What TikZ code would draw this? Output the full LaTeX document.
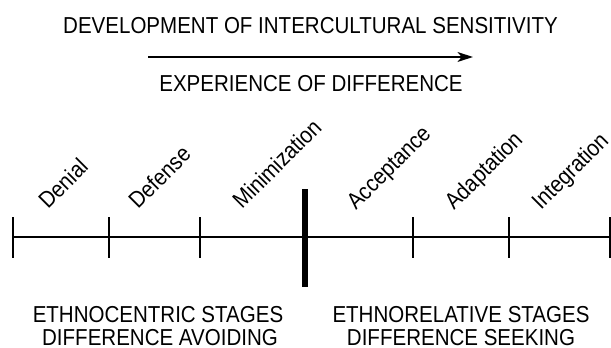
\documentclass[tikz,border=0pt]{standalone}
\usepackage{fontspec}
\setmainfont[FakeStretch=0.89]{Liberation Sans}
\usetikzlibrary{arrows.meta}
\begin{document}
\begin{tikzpicture}[x=0.025cm, y=0.025cm, font=\fontsize{16.4}{18}\selectfont,
  stage/.style={rotate=45, anchor=base west, inner sep=0pt},
  caps/.style={anchor=base, inner sep=0pt},
  tick/.style={line width=0.9pt}]
  \useasboundingbox (0,0) rectangle (611,348);
  \def\Y{111}
  % headline and the arrow under it
  \node[caps] (title) at (310.5,314) {DEVELOPMENT OF INTERCULTURAL SENSITIVITY};
  \coordinate (arrS) at (148,291);
  \coordinate (arrE) at (473,291);
  \draw[line width=1.4pt, -{Stealth[length=11pt, width=7pt, inset=3pt]}] (arrS) -- (arrE);
  \node[caps] (exper) at (311,256) {EXPERIENCE OF DIFFERENCE};
  % the scale
  \coordinate (L) at (13,\Y);
  \coordinate (R) at (611,\Y);
  \draw[tick] (L) -- (R);
  \foreach \x in {13,109,200,413,509,610}
    \draw[tick] (\x,90) -- (\x,131);
  \coordinate (barT) at (305,159);
  \coordinate (barB) at (305,61);
  \draw[line width=3.6pt] (barB) -- (barT);
  % stage names, slanted
  \node[stage] (denial) at (48,138) {Denial};
  \node[stage] (defense) at (138,138) {Defense};
  \node[stage] (minim) at (242,138) {Minimization};
  \node[stage] (accept) at (356,137) {Acceptance};
  \node[stage] (adapt) at (454,137) {Adaptation};
  \node[stage] (integ) at (541,137) {Integration};
  % the two halves
  \node[caps] (ethnoC) at (158,25) {ETHNOCENTRIC STAGES};
  \node[caps] (avoid) at (160,2) {DIFFERENCE AVOIDING};
  \node[caps] (ethnoR) at (461,25) {ETHNORELATIVE STAGES};
  \node[caps] (seek) at (461,2) {DIFFERENCE SEEKING};
\end{tikzpicture}
\end{document}
